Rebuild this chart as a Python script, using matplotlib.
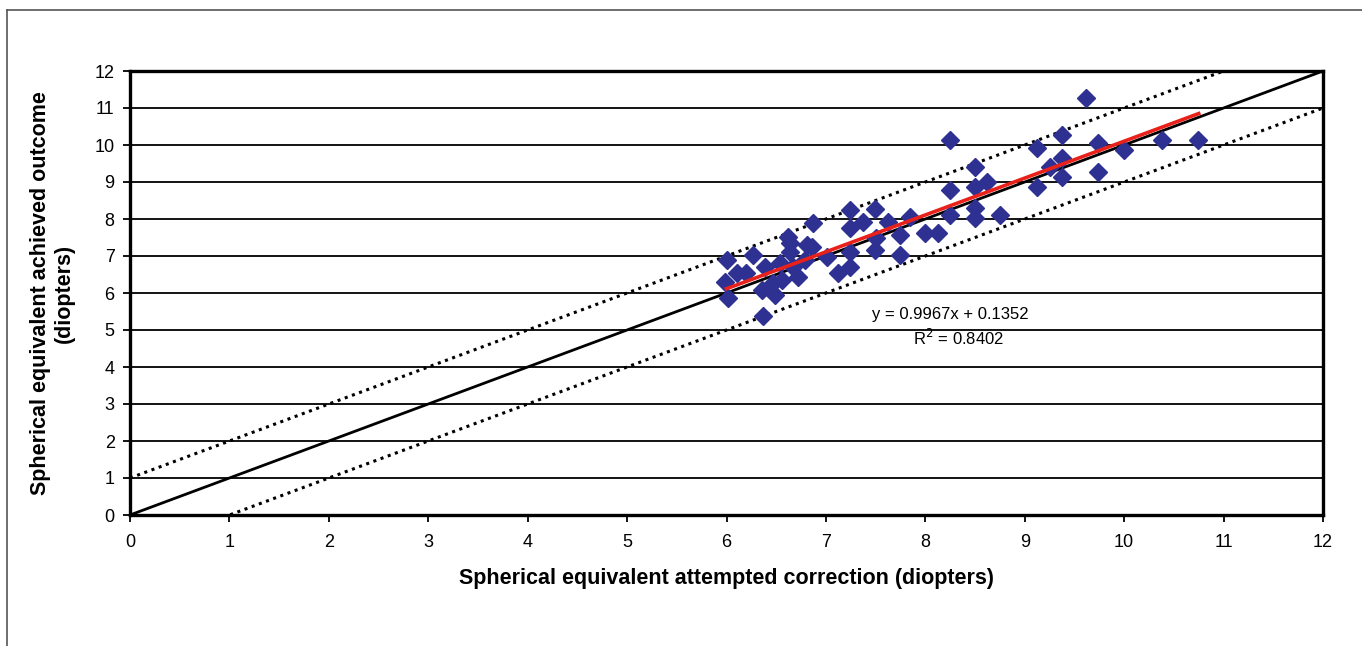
import matplotlib
matplotlib.use("Agg")
import matplotlib.pyplot as plt
import numpy as np
from matplotlib import font_manager

names = {f.name for f in font_manager.fontManager.ttflist}
fam = 'Liberation Sans Narrow' if 'Liberation Sans Narrow' in names else 'Liberation Sans'
plt.rcParams['font.family'] = [fam, 'DejaVu Sans']

attempted = [6.00, 6.27, 6.64, 6.86, 6.11, 5.98, 6.39, 6.54, 6.67, 6.79, 6.47, 6.36, 6.49, 6.02,
             6.37, 6.72, 6.62, 6.20, 6.56, 6.64,
             6.87, 7.24, 7.49, 7.24, 7.37, 7.62, 7.85, 7.75, 7.50, 6.81, 7.24, 7.49, 7.75, 7.01,
             7.12, 7.24, 8.00, 8.13,
             8.25, 8.50, 8.25, 8.50, 8.62, 8.50, 8.50, 8.75, 8.25, 9.12, 9.12, 9.62, 9.37, 9.74,
             10.00, 10.38, 10.74, 9.37, 9.25, 9.37, 9.74]
achieved = [6.89, 7.03, 7.35, 7.24, 6.54, 6.30, 6.70, 6.81, 6.70, 6.89, 6.27, 6.08, 5.95, 5.86,
            5.38, 6.43, 7.51, 6.54, 6.35, 7.10,
            7.89, 8.25, 8.27, 7.76, 7.92, 7.92, 8.05, 7.57, 7.49, 7.30, 7.10, 7.16, 7.03, 6.97,
            6.54, 6.70, 7.62, 7.62,
            10.14, 9.40, 8.78, 8.86, 9.00, 8.30, 8.03, 8.10, 8.10, 9.92, 8.86, 11.27, 10.27, 10.05,
            9.86, 10.14, 10.14, 9.65, 9.41, 9.14, 9.27]

slope = 0.9967
intercept = 0.1352
r2 = 0.8402
trend_x = [6.0, 10.75]
ticks = list(range(0, 13))

fig = plt.figure(figsize=(13.62, 6.46), dpi=100)
fig.patch.set_facecolor('white')
# partial outer frame (left & top)
fig.add_artist(plt.Line2D([7/1362, 7/1362], [0, 1 - 10/646], transform=fig.transFigure,
                          color='#555555', lw=1.2))
fig.add_artist(plt.Line2D([7/1362, 1], [1 - 10/646, 1 - 10/646], transform=fig.transFigure,
                          color='#555555', lw=1.2))

ax = fig.add_axes([130/1362, 1 - 515/646, (1323 - 130)/1362, (515 - 71)/646])
ax.set_xlim(0, 12)
ax.set_ylim(0, 12)
for y in ticks[1:-1]:
    ax.axhline(y, color='black', lw=1.3, zorder=1)

xx = np.array([0, 12])
ax.plot(xx, xx, color='black', lw=2, zorder=2)
ax.plot(xx, xx + 1, color='black', lw=2.2, ls=(0, (1, 1.5)), zorder=2)
ax.plot(xx, xx - 1, color='black', lw=2.2, ls=(0, (1, 1.5)), zorder=2)

ax.plot(attempted, achieved, ls='none', marker='D', ms=9, color='#2E3192',
        markeredgecolor='#2E3192', zorder=3)

tx = np.array(trend_x)
ax.plot(tx, slope * tx + intercept, color='#E8211B', lw=2.6, zorder=4)

ax.text(8.25, 5.43, f"y = {slope}x + {intercept}", fontsize=12, ha='center', va='center', zorder=5)
ax.text(8.33, 4.78, f"R$^2$ = {r2}", fontsize=12, ha='center', va='center', zorder=5)

ax.set_xticks(ticks)
ax.set_yticks(ticks)
ax.tick_params(direction='out', length=5, width=1.3, labelsize=13)
ax.tick_params(axis='x', pad=9)
ax.tick_params(axis='y', pad=6)
for s in ax.spines.values():
    s.set_linewidth(2.4)
    s.set_color('black')

ax.set_xlabel('Spherical equivalent attempted correction (diopters)', fontsize=15.5,
              fontweight='bold', labelpad=12)
ax.set_ylabel('Spherical equivalent achieved outcome\n(diopters)', fontsize=15.5,
              fontweight='bold', labelpad=14, linespacing=1.2)

fig.savefig('out.png', dpi=100, facecolor='white')
